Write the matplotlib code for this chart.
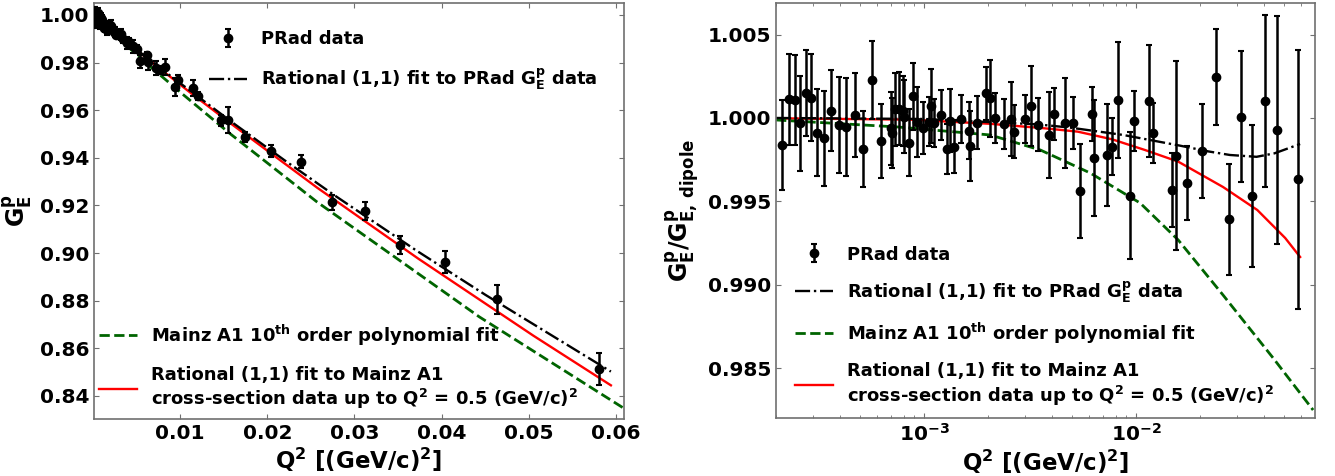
import numpy as np
import matplotlib
matplotlib.use('Agg')
import matplotlib.pyplot as plt

plt.rcParams['font.family'] = 'DejaVu Sans'
plt.rcParams['font.weight'] = 'bold'
plt.rcParams['axes.labelweight'] = 'bold'
plt.rcParams['mathtext.fontset'] = 'dejavusans'
plt.rcParams['mathtext.default'] = 'bf'

# PRad points: Q2 [(GeV/c)^2], G_E / G_dipole and its error
q2 = [2.139e-4, 2.291e-4, 2.445e-4, 2.581e-4, 2.755e-4, 2.909e-4, 3.118e-4, 3.386e-4,
      3.653e-4, 3.959e-4, 4.300e-4, 4.727e-4, 5.172e-4, 5.684e-4, 6.288e-4, 6.990e-4,
      7.043e-4, 7.245e-4, 7.622e-4, 7.934e-4, 8.047e-4, 8.434e-4, 8.901e-4, 9.238e-4,
      9.860e-4, 1.056e-3, 1.079e-3, 1.118e-3, 1.199e-3, 1.280e-3, 1.326e-3, 1.381e-3,
      1.495e-3, 1.636e-3, 1.648e-3, 1.784e-3, 1.961e-3, 2.048e-3, 2.162e-3, 2.384e-3,
      2.564e-3, 2.667e-3, 2.995e-3, 3.186e-3, 3.461e-3, 3.867e-3, 4.104e-3, 4.626e-3,
      5.018e-3, 5.443e-3, 6.202e-3, 6.323e-3, 7.258e-3, 7.731e-3, 8.251e-3, 9.370e-3,
      9.786e-3, 1.152e-2, 1.206e-2, 1.471e-2, 1.544e-2, 1.746e-2, 2.048e-2, 2.385e-2,
      2.746e-2, 3.118e-2, 3.526e-2, 4.037e-2, 4.634e-2, 5.809e-2]
ratio = [0.99838, 1.00112, 1.00108, 0.99968, 1.00148, 1.00122, 0.99912, 0.99878,
         1.00044, 0.99958, 0.99944, 1.00018, 0.99816, 1.00228, 0.99862, 0.99938,
         0.99908, 1.00052, 1.00056, 1.00042, 1.00008, 0.99852, 1.00130, 0.99978,
         0.99938, 0.99978, 1.00072, 0.99968, 1.00018, 0.99814, 0.99984, 0.99828,
         0.99994, 0.99924, 0.99832, 0.99972, 1.00148, 1.00118, 1.00002, 0.99966,
         0.99994, 0.99918, 0.99992, 1.00072, 0.99960, 0.99898, 1.00024, 0.99968,
         0.99968, 0.99564, 1.00024, 0.99762, 0.99778, 0.99828, 1.00108, 0.99534,
         0.99984, 1.00102, 0.99912, 0.99568, 0.99774, 0.99608, 0.99804, 1.00244,
         0.99392, 1.00008, 0.99532, 1.00102, 0.99928, 0.99632]
ratio_err = [0.0027, 0.00273, 0.0027, 0.00284, 0.00258, 0.00263, 0.0026, 0.00286,
             0.00245, 0.0029, 0.00295, 0.0025, 0.00228, 0.00233, 0.0022, 0.0022,
             0.0021, 0.0022, 0.0022, 0.0021, 0.0022, 0.0020, 0.0020, 0.0021,
             0.00155, 0.00145, 0.0022, 0.00145, 0.0015, 0.0015, 0.0019, 0.0016,
             0.00144, 0.0017, 0.0021, 0.0016, 0.0016, 0.0023, 0.0015, 0.0015,
             0.0022, 0.0016, 0.00145, 0.0024, 0.0016, 0.0026, 0.00155, 0.0027,
             0.00155, 0.00282, 0.0016, 0.00348, 0.00305, 0.00173, 0.0035, 0.00383,
             0.0018, 0.00338, 0.0018, 0.00222, 0.00565, 0.00222, 0.00282, 0.00289,
             0.00333, 0.00395, 0.00425, 0.00517, 0.00684, 0.00778]

# fit curves, read as ratio to dipole
q2_prad_fit = [2.0e-4, 1.0e-3, 2.05e-3, 3.4e-3, 4.9e-3, 8.7e-3, 1.61e-2, 2.2e-2,
               2.77e-2, 3.7e-2, 4.5e-2, 5.94e-2]
r_prad_fit = [1.0000, 0.99994, 0.99975, 0.99962, 0.99942, 0.99898, 0.99834, 0.99799,
              0.99778, 0.99767, 0.99788, 0.99844]
q2_mainz_rat = [2.0e-4, 8.6e-4, 2.05e-3, 3.7e-3, 5.3e-3, 7.7e-3, 1.1e-2, 1.58e-2,
                2.57e-2, 3.73e-2, 5.05e-2, 5.94e-2]
r_mainz_rat = [0.99998, 0.99990, 0.99965, 0.99938, 0.99918, 0.99872, 0.99808, 0.99738,
               0.99586, 0.99448, 0.99280, 0.99166]
q2_mainz_poly = [2.0e-4, 7.5e-4, 2.05e-3, 3.53e-3, 6.07e-3, 1.044e-2, 1.58e-2, 2.57e-2,
                 4.43e-2, 6.84e-2]
r_mainz_poly = [0.99988, 0.99946, 0.99898, 0.99808, 0.99670, 0.99490, 0.99268, 0.98938,
                0.98560, 0.98248]


def dipole(x):
    x = np.asarray(x)
    return (1 + x / 0.71) ** -2


lab_data = 'PRad data'
lab_prad = 'Rational (1,1) fit to PRad $G_E^p$ data'
lab_poly = 'Mainz A1 10$^{th}$ order polynomial fit'
lab_rat = 'Rational (1,1) fit to Mainz A1\ncross-section data up to Q$^2$ = 0.5 (GeV/c)$^2$'
spine_col = '#707070'


def style(ax):
    for s in ax.spines.values():
        s.set_color(spine_col)
        s.set_linewidth(1.2)
    ax.tick_params(which='both', direction='in', top=True, right=True,
                   color=spine_col, labelcolor='black', labelsize=14.5)


def draw(ax, conv):
    # conv turns a ratio into what the panel shows
    ebar = ax.errorbar(q2, np.array(ratio) * conv(q2), yerr=np.array(ratio_err) * conv(q2),
                       fmt='o', color='black', ms=6, elinewidth=1.8, capsize=2.5,
                       capthick=1.5, zorder=4, label=lab_data)
    red, = ax.plot(q2_mainz_rat, np.array(r_mainz_rat) * conv(q2_mainz_rat), '-',
                   color='red', lw=1.7, zorder=2, label=lab_rat)
    green, = ax.plot(q2_mainz_poly, np.array(r_mainz_poly) * conv(q2_mainz_poly), '--',
                     color='darkgreen', lw=2.0, zorder=2.1, label=lab_poly)
    black, = ax.plot(q2_prad_fit, np.array(r_prad_fit) * conv(q2_prad_fit), '-.',
                     color='black', lw=1.7, zorder=2.2, label=lab_prad)
    return ebar, black, green, red


fig = plt.figure(figsize=(13.35, 4.76), dpi=100)
ax1 = fig.add_axes([0.0704, 0.1197, 0.397, 0.874])
ax2 = fig.add_axes([0.5813, 0.1218, 0.4037, 0.872])

# left: G_E itself
h = draw(ax1, dipole)
style(ax1)
ax1.set_xlim(0.00013, 0.0609)
ax1.set_ylim(0.8303, 1.005)
ax1.set_xticks([0.01, 0.02, 0.03, 0.04, 0.05, 0.06])
ax1.set_yticks(np.arange(0.84, 1.001, 0.02))
ax1.yaxis.set_major_formatter(matplotlib.ticker.FormatStrFormatter('%.2f'))
ax1.xaxis.set_major_formatter(matplotlib.ticker.FormatStrFormatter('%.2f'))
ax1.set_xlabel('Q$^2$ [(GeV/c)$^2$]', fontsize=16.5, labelpad=2)
ax1.set_ylabel('$G_E^p$', fontsize=17, labelpad=4)
leg_kw = dict(frameon=False, fontsize=13, handlelength=2.1, handletextpad=0.8,
              borderpad=0, borderaxespad=0, loc='upper left')
leg1 = ax1.legend(handles=[h[0], h[1]], bbox_to_anchor=(0.217, 0.935),
                  labelspacing=1.05, **leg_kw)
ax1.add_artist(leg1)
ax1.legend(handles=[h[2], h[3]], bbox_to_anchor=(0.0094, 0.232),
           labelspacing=1.0, **leg_kw)

# right: ratio to dipole, log Q2
h2 = draw(ax2, lambda x: np.ones(len(x)))
style(ax2)
ax2.set_xscale('log')
ax2.set_xlim(2.0e-4, 0.0698)
ax2.set_ylim(0.982, 1.0069)
ax2.set_yticks([0.985, 0.990, 0.995, 1.000, 1.005])
ax2.yaxis.set_major_formatter(matplotlib.ticker.FormatStrFormatter('%.3f'))
ax2.set_xlabel('Q$^2$ [(GeV/c)$^2$]', fontsize=16.5, labelpad=2)
ax2.set_ylabel('$G_E^p/G_{E,\\,dipole}^p$', fontsize=17, labelpad=4)
ax2.legend(handles=list(h2), bbox_to_anchor=(0.035, 0.415), labelspacing=0.88, **leg_kw)

fig.savefig('out.png', dpi=100)
